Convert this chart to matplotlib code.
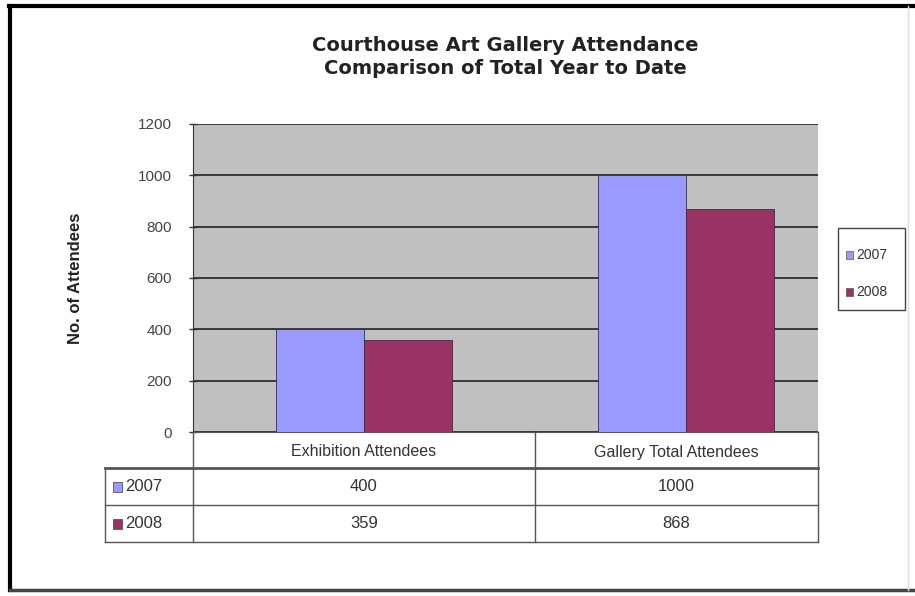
import matplotlib
matplotlib.use("Agg")
import matplotlib.pyplot as plt
from matplotlib.lines import Line2D
from matplotlib.patches import Rectangle

# ---- data ----
categories = ["Exhibition Attendees", "Gallery Total Attendees"]
series_names = ["2007", "2008"]
values_2007 = [400, 1000]
values_2008 = [359, 868]
yticks = [0, 200, 400, 600, 800, 1000, 1200]
title = "Courthouse Art Gallery Attendance\nComparison of Total Year to Date"
ylabel = "No. of Attendees"

colors = ["#9999FF", "#993366"]
W, H = 915, 596
fig = plt.figure(figsize=(W / 100, H / 100), dpi=100)
plt.rcParams['font.family'] = ['Liberation Sans', 'DejaVu Sans']

def fx(px):
    return px / W

def fy(py):
    return 1 - py / H

# plot area in pixels
L, R, T, B = 193, 818, 124, 432
ax = fig.add_axes([fx(L), fy(B), fx(R) - fx(L), fy(T) - fy(B)])
ax.set_facecolor("#C0C0C0")

x = [0, 1]
bw = 0.273
series = [values_2007, values_2008]
for i, (name, vals) in enumerate(zip(series_names, series)):
    offs = (i - 0.5) * bw
    ax.bar([xi + offs for xi in x], vals, width=bw, color=colors[i],
           edgecolor="#333333", linewidth=0.6, label=name, zorder=3)

ax.set_xlim(-0.531, 1.41)
ax.set_ylim(0, 1200)
ax.set_yticks(yticks)
ax.set_yticklabels([str(t) for t in yticks], fontsize=11, color="#444444")
ax.yaxis.grid(True, color="#222222", linewidth=1.2, zorder=1)
ax.set_axisbelow(True)
ax.set_xticks([])
ax.tick_params(axis="y", direction="inout", length=6, width=1, color="#333333", pad=12)
for s in ["top", "right"]:
    ax.spines[s].set_visible(False)
ax.spines["left"].set_color("#333333")
ax.spines["bottom"].set_color("#555555")
ax.set_ylabel(ylabel, fontsize=12, fontweight="bold", labelpad=40, color="#222222")

# ---- data table ----
cols_px = [193, 535, 818]
left_px = 105
rows_y = [432, 468, 505, 542]
lc = "#555555"
for cx in cols_px:
    fig.add_artist(Line2D([fx(cx), fx(cx)], [fy(rows_y[0]), fy(rows_y[3])], color=lc, lw=1.0))
fig.add_artist(Line2D([fx(left_px), fx(left_px)], [fy(rows_y[1]), fy(rows_y[3])], color=lc, lw=1.0))
for j, ry in enumerate(rows_y[1:]):
    fig.add_artist(Line2D([fx(left_px), fx(cols_px[-1])], [fy(ry), fy(ry)], color=lc,
                          lw=2.0 if j == 0 else 1.0))
for k, cat in enumerate(categories):
    cx = (cols_px[k] + cols_px[k + 1]) / 2
    fig.text(fx(cx), fy((rows_y[0] + rows_y[1]) / 2 + 2), cat, ha="center", va="center",
             fontsize=11.5, color="#333333")
for r, (name, vals) in enumerate(zip(series_names, series)):
    cy = (rows_y[r + 1] + rows_y[r + 2]) / 2
    fig.add_artist(Rectangle((fx(left_px + 8), fy(cy + 5)), fx(9), 10 / H,
                             facecolor=colors[r], edgecolor="#555555", lw=0.6))
    fig.text(fx(left_px + 20), fy(cy), name, ha="left", va="center", fontsize=12, color="#333333")
    for k, v in enumerate(vals):
        cx = (cols_px[k] + cols_px[k + 1]) / 2
        fig.text(fx(cx), fy(cy), str(v), ha="center", va="center", fontsize=12, color="#333333")

# ---- title ----
fig.text(fx(505), fy(57), title, ha="center", va="center", fontsize=14,
         fontweight="bold", color="#222222", linespacing=1.3, family="DejaVu Sans")

# ---- legend ----
fig.add_artist(Rectangle((fx(838), fy(310)), fx(905) - fx(838), (310 - 228) / H,
                         facecolor="white", edgecolor="#444444", lw=1.0))
for r, name in enumerate(series_names):
    cy = 255 + r * 37
    fig.add_artist(Rectangle((fx(846), fy(cy + 4)), fx(7), 8 / H,
                             facecolor=colors[r], edgecolor="#555555", lw=0.5))
    fig.text(fx(856), fy(cy), name, ha="left", va="center", fontsize=10, color="#333333")

# ---- outer border ----
fig.add_artist(Line2D([fx(9), fx(915)], [fy(6), fy(6)], color="black", lw=3))
fig.add_artist(Line2D([fx(10), fx(10)], [fy(6), fy(590)], color="black", lw=3))
fig.add_artist(Line2D([fx(10), fx(915)], [fy(590), fy(590)], color="#444444", lw=2.5))
fig.add_artist(Line2D([fx(908), fx(908)], [fy(6), fy(590)], color="#dddddd", lw=1))

fig.savefig("out.png", dpi=100, facecolor="white")
